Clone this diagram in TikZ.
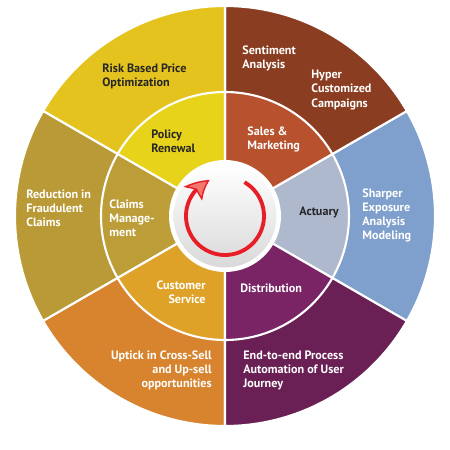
\documentclass[tikz,border=0pt]{standalone}
\usepackage{fontspec}
\setsansfont{PT Sans}
\usetikzlibrary{arrows.meta, bending}
\definecolor{outblue}{RGB}{127,160,204}
\definecolor{outbrown}{RGB}{138,61,32}
\definecolor{outyellow}{RGB}{229,195,31}
\definecolor{outolive}{RGB}{185,154,54}
\definecolor{outorange}{RGB}{216,132,47}
\definecolor{outpurple}{RGB}{106,31,85}
\definecolor{inblue}{RGB}{175,185,205}
\definecolor{inbrown}{RGB}{184,81,46}
\definecolor{inyellow}{RGB}{232,211,27}
\definecolor{inolive}{RGB}{188,157,56}
\definecolor{inorange}{RGB}{223,162,41}
\definecolor{inpurple}{RGB}{122,36,102}
\definecolor{cyclered}{RGB}{232,30,38}

\begin{document}
\begin{tikzpicture}[font=\sffamily\bfseries]
  \tikzset{
    sector_line/.style={draw=white, line width=1.2pt},
    wheel_text/.style={text=white, inner sep=0pt, align=left,
      font=\sffamily\bfseries\fontsize{6.9}{8}\selectfont},
    dark_text/.style={wheel_text, text=black!85},
    cycle_arrow/.style={cyclered, line width=2.2pt,
      -{Stealth[bend, length=0.44cm, width=0.46cm, inset=0.1cm, fill={rgb,255:red,242;green,120;blue,110}, line width=0.8pt]}}
  }
  \useasboundingbox (-4.5,-4.68) rectangle (4.5,4.32);

  % Draw the outer ring of six sectors
  \foreach \col [count=\i] in {outblue, outbrown, outyellow, outolive, outorange, outpurple} {
    \pgfmathsetmacro{\a}{60*\i-90}
    \filldraw[sector_line, fill=\col] (0,0) -- (\a:4.2) arc[start angle=\a, end angle=\a+60, radius=4.2] -- cycle;
  }

  % Draw the inner ring on top of it
  \foreach \col [count=\i] in {inblue, inbrown, inyellow, inolive, inorange, inpurple} {
    \pgfmathsetmacro{\a}{60*\i-90}
    \filldraw[sector_line, fill=\col] (0,0) -- (\a:2.48) arc[start angle=\a, end angle=\a+60, radius=2.48] -- cycle;
  }

  % Centre disc with the turning arrow
  \fill[white] (0,0) circle (1.12);
  \shade[top color=white, bottom color=gray!30] (0,0) circle (1.03);
  \draw[cycle_arrow] (60:0.78) arc[start angle=60, end angle=-247, radius=0.78];

  % Outer labels
  \node[dark_text, anchor=west] (risk) at (-2.46,2.80) {Risk Based Price\\Optimization};
  \node[wheel_text, anchor=west] (sentiment) at (0.34,3.16) {Sentiment\\Analysis};
  \node[wheel_text, anchor=west] (hyper) at (1.72,2.52) {Hyper\\Customized\\Campaigns};
  \node[wheel_text, anchor=west] (sharper) at (2.74,0.01) {Sharper\\Exposure\\Analysis\\Modeling};
  \node[wheel_text, anchor=west] (endtoend) at (0.36,-3.08) {End-to-end Process\\Automation of User\\Journey};
  \node[wheel_text, anchor=east, align=right] (uptick) at (-0.26,-3.08) {Uptick in Cross-Sell\\and Up-sell\\opportunities};
  \node[wheel_text, anchor=west] (reduction) at (-3.98,0.16) {Reduction in\\Fraudulent\\Claims};

  % Inner labels
  \node[dark_text, anchor=west] (policy) at (-1.48,1.50) {Policy\\Renewal};
  \node[wheel_text, anchor=west] (sales) at (0.44,1.53) {Sales \&\\Marketing};
  \node[dark_text] (actuary) at (1.88,0.08) {Actuary};
  \node[wheel_text, anchor=west] (distribution) at (0.30,-1.44) {Distribution};
  \node[wheel_text, anchor=east, align=right] (customer) at (-0.38,-1.52) {Customer\\Service};
  \node[wheel_text, anchor=west] (claims) at (-2.32,-0.04) {Claims\\Manage-\\ment};
\end{tikzpicture}
\end{document}
